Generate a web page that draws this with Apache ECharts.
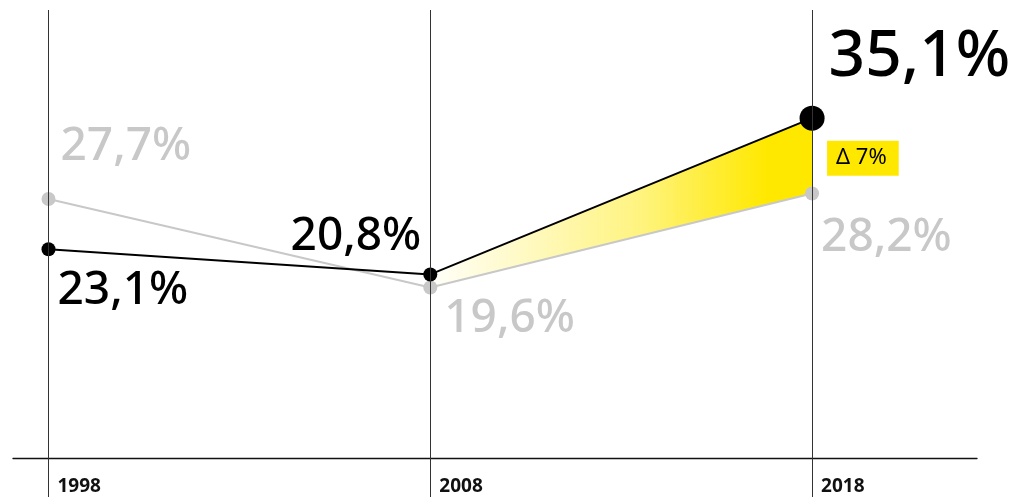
<!DOCTYPE html>
<html>
<head>
<meta charset="utf-8">
<style>
  html, body { margin: 0; padding: 0; background: #fff; }
  #chart { width: 1018px; height: 499px; }
</style>
<script src="https://cdn.jsdelivr.net/npm/echarts@6/dist/echarts.min.js"></script>
</head>
<body>
<div id="chart"></div>
<script>
  // data
  var years = [1998, 2008, 2018];
  var seriesA = [23.1, 20.8, 35.1]; // schwarz
  var seriesB = [27.7, 19.6, 28.2]; // grau
  var deltaLabel = 'Δ 7%';

  var FONT = '"Noto Sans", sans-serif';
  var GREY = '#c8c8c8';
  var YELLOW = '#ffe800';

  function pct (v) {
    return v.toFixed(1).replace('.', ',') + '%';
  }

  // label placements per point (style only)
  var labelA = [
    { position: 'right', offset: [-3, 42] },
    { position: 'left', offset: [3, -38] },
    { position: 'right', offset: [-1, -60], fontSize: 64 }
  ];
  var labelB = [
    { position: 'right', offset: [0, -52] },
    { position: 'right', offset: [2, 31] },
    { position: 'right', offset: [-3, 44] }
  ];

  var chart = echarts.init(document.getElementById('chart'));

  chart.setOption({
    animation: false,
    grid: { left: 13, right: 41, top: 10, bottom: 41 },
    xAxis: {
      type: 'value',
      min: 1997.07,
      max: 2022.32,
      splitLine: { show: false },
      axisLine: { show: true, lineStyle: { color: '#111', width: 1.3 } },
      axisTick: {
        show: true,
        customValues: years,
        length: 39,
        lineStyle: { color: '#333', width: 1 }
      },
      axisLabel: {
        customValues: years,
        align: 'left',
        margin: 19,
        padding: [0, 0, 0, 9],
        color: '#111',
        fontSize: 19,
        fontWeight: 'bold',
        fontFamily: FONT,
        formatter: function (v) { return String(v); }
      }
    },
    yAxis: {
      type: 'value',
      min: 4,
      max: 45,
      show: false,
      splitLine: { show: false }
    },
    series: [
      {
        // gelbe Differenzfläche 2008 -> 2018
        type: 'custom',
        z: 1,
        data: [[years[1], years[2], seriesA[1], seriesA[2], seriesB[1], seriesB[2]]],
        renderItem: function (params, api) {
          var a1 = api.coord([api.value(0), api.value(2)]);
          var a2 = api.coord([api.value(1), api.value(3)]);
          var b2 = api.coord([api.value(1), api.value(5)]);
          var b1 = api.coord([api.value(0), api.value(4)]);
          return {
            type: 'group',
            children: [
              {
                type: 'polygon',
                shape: { points: [a1, a2, b2, b1] },
                style: {
                  fill: new echarts.graphic.LinearGradient(0, 0, 1, 0, [
                    { offset: 0, color: 'rgba(255,232,0,0.02)' },
                    { offset: 0.55, color: 'rgba(255,232,0,0.5)' },
                    { offset: 0.88, color: 'rgba(255,232,0,1)' },
                    { offset: 1, color: 'rgba(255,232,0,1)' }
                  ])
                }
              },
              {
                type: 'text',
                x: a2[0] + 15,
                y: a2[1] + 40,
                style: {
                  text: deltaLabel,
                  fill: '#000',
                  font: '22px ' + FONT,
                  backgroundColor: YELLOW,
                  padding: [7, 12, 6, 9],
                  verticalAlign: 'middle'
                }
              }
            ]
          };
        }
      },
      {
        type: 'line',
        z: 2,
        symbol: 'circle',
        symbolSize: 14,
        lineStyle: { color: GREY, width: 2 },
        itemStyle: { color: GREY },
        label: {
          show: true,
          color: GREY,
          fontSize: 46,
          fontWeight: 500,
          fontFamily: FONT,
          formatter: function (p) { return pct(p.value[1]); }
        },
        data: years.map(function (y, i) {
          return { value: [y, seriesB[i]], label: labelB[i] };
        }),
        markLine: {
          silent: true,
          symbol: 'none',
          label: { show: false },
          lineStyle: { color: '#333', width: 1, type: 'solid' },
          data: years.map(function (y) { return { xAxis: y }; })
        }
      },
      {
        type: 'line',
        z: 3,
        symbol: 'circle',
        symbolSize: 14,
        lineStyle: { color: '#000', width: 2 },
        itemStyle: { color: '#000' },
        label: {
          show: true,
          color: '#000',
          fontSize: 46,
          fontWeight: 500,
          fontFamily: FONT,
          formatter: function (p) { return pct(p.value[1]); }
        },
        data: years.map(function (y, i) {
          var item = { value: [y, seriesA[i]], label: labelA[i] };
          if (i === years.length - 1) item.symbolSize = 25;
          return item;
        })
      }
    ]
  });
</script>
</body>
</html>
